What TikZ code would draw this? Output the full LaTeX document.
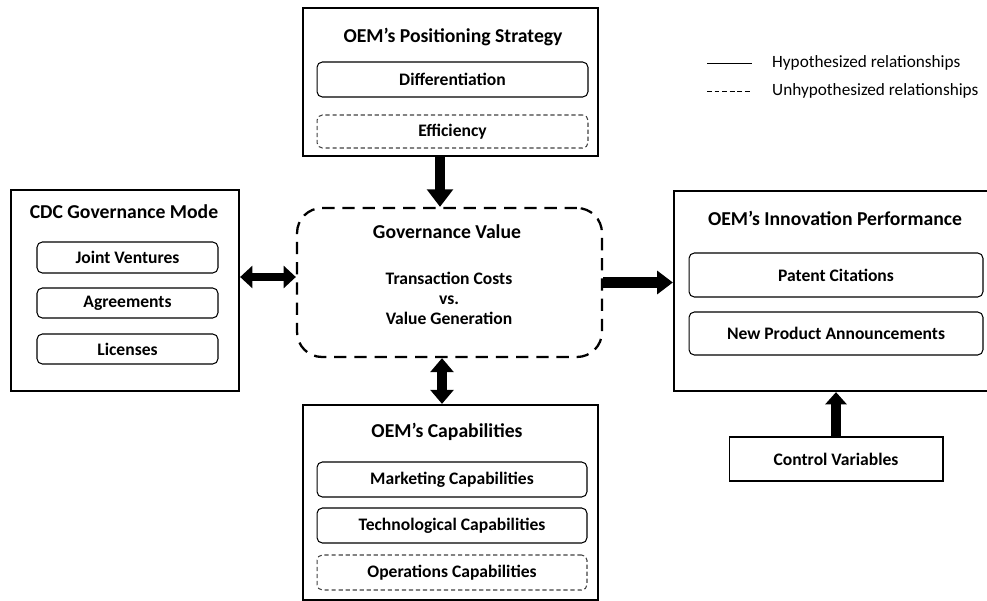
\documentclass[tikz,border=0pt]{standalone}
\usepackage{fontspec}
\setmainfont{Carlito}
\usetikzlibrary{arrows.meta}

\tikzset{
  outerbox/.style={draw, line width=1.3pt, inner sep=0pt},
  itembox/.style={draw, line width=0.6pt, rounded corners=3pt, inner sep=0pt,
    font=\bfseries\fontsize{10}{12}\selectfont},
  openitem/.style={itembox, draw=black!75, dash pattern=on 2.4pt off 1.6pt},
  boxtitle/.style={font=\bfseries\fontsize{11.2}{13}\selectfont},
  flow/.style={line width=5.6pt, -{Triangle[length=10pt,width=14.5pt]}},
  twoway/.style={line width=5.6pt, {Triangle[length=7pt,width=12.5pt]}-{Triangle[length=7pt,width=12.5pt]}},
  legendtext/.style={anchor=west, font=\fontsize{9.8}{12}\selectfont}
}

\begin{document}
\begin{tikzpicture}[x=0.02cm, y=-0.02cm]
  \useasboundingbox (0,0) rectangle (987,601);

  %% ---- Positioning strategy (top) ----
  \node[outerbox, minimum width=5.9cm, minimum height=2.96cm] (strat) at (450.5,82) {};
  \node[boxtitle] (strattitle) at (453,37) {OEM’s Positioning Strategy};
  \node[itembox, minimum width=5.42cm, minimum height=0.7cm] (diff) at (452.5,79.5) {Differentiation};
  \node[openitem, minimum width=5.42cm, minimum height=0.66cm] (effic) at (452.5,131.5) {Efficiency};

  %% ---- Governance value (centre) ----
  \node[draw, line width=1.3pt, dash pattern=on 7pt off 4.5pt, rounded corners=0.5cm,
    minimum width=6.1cm, minimum height=2.98cm] (gov) at (449.5,282.5) {};
  \node[boxtitle] (govtitle) at (447,232) {Governance Value};
  \node[font=\bfseries\fontsize{10}{11.4}\selectfont, align=center] (govtext) at (449,298)
    {Transaction Costs\\vs.\\Value Generation};

  %% ---- CDC governance mode (left) ----
  \node[outerbox, minimum width=4.56cm, minimum height=4.02cm] (cdc) at (125,290.5) {};
  \node[boxtitle] (cdctitle) at (124,212) {CDC Governance Mode};
  \node[itembox, minimum width=3.62cm, minimum height=0.62cm] (jv) at (127.5,257.5) {Joint Ventures};
  \node[itembox, minimum width=3.62cm, minimum height=0.6cm] (agree) at (127.5,303) {Agreements};
  \node[itembox, minimum width=3.62cm, minimum height=0.6cm] (lic) at (127.5,349) {Licenses};

  %% ---- Innovation performance (right) ----
  \node[outerbox, minimum width=6.4cm, minimum height=4cm] (inno) at (834,291) {};
  \node[boxtitle] (innotitle) at (835,218) {OEM’s Innovation Performance};
  \node[itembox, minimum width=5.88cm, minimum height=0.88cm] (patent) at (836,275) {Patent Citations};
  \node[itembox, minimum width=5.88cm, minimum height=0.86cm] (newprod) at (836,333.5) {New Product Announcements};

  \node[draw, line width=0.6pt, minimum width=4.28cm, minimum height=0.88cm,
    font=\bfseries\fontsize{10}{12}\selectfont] (ctrl) at (836,459) {Control Variables};

  %% ---- Capabilities (bottom) ----
  \node[outerbox, minimum width=5.9cm, minimum height=3.9cm] (capab) at (450.5,502.5) {};
  \node[boxtitle] (capabtitle) at (447,432) {OEM’s Capabilities};
  \node[itembox, minimum width=5.4cm, minimum height=0.7cm] (mkt) at (452,479.5) {Marketing Capabilities};
  \node[itembox, minimum width=5.4cm, minimum height=0.7cm] (tech) at (452,525.5) {Technological Capabilities};
  \node[openitem, minimum width=5.4cm, minimum height=0.7cm] (ops) at (452,572.5) {Operations Capabilities};

  %% ---- Arrows ----
  \coordinate (leftlvl) at (0,277);
  \coordinate (vertx) at (440,0);
  \coordinate (capx) at (442,0);
  \draw[flow] (strat.south -| vertx) -- (gov.north -| vertx);
  \draw[twoway, line width=4.4pt] (cdc.east |- leftlvl) -- (gov.west |- leftlvl);
  \draw[twoway, {Triangle[length=8pt,width=13pt]}-{Triangle[length=8pt,width=13pt]}]
    (gov.south -| capx) -- (capab.north -| capx);
  \draw[flow, line width=6.6pt, -{Triangle[length=9pt,width=13pt]}] (gov.east) -- (inno.west |- gov.east);
  \draw[flow, -{Triangle[length=7pt,width=12pt]}] (ctrl.north) -- (ctrl.north |- inno.south);

  %% ---- Legend ----
  \draw[line width=0.5pt] (707,63) -- (752,63);
  \draw[line width=0.5pt, dash pattern=on 2.8pt off 1.5pt] (707,91) -- (752,91);
  \node[legendtext] (hyp) at (766,63) {Hypothesized\ relationships};
  \node[legendtext] (unhyp) at (766,91) {Unhypothesized\ relationships};
\end{tikzpicture}
\end{document}
